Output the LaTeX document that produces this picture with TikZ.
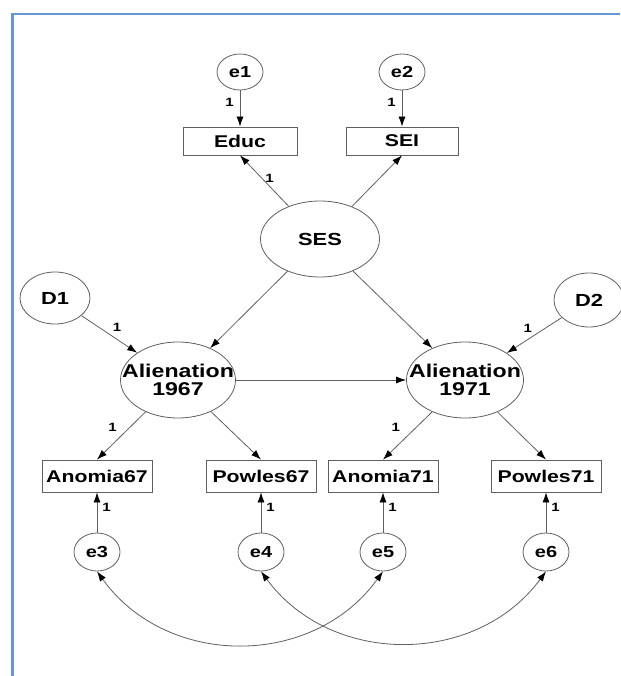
\documentclass[tikz,border=0pt]{standalone}
\usepackage{fontspec}
\setmainfont{Liberation Sans}[FakeStretch=1.25]
\usetikzlibrary{shapes.geometric,arrows.meta}
\definecolor{frameblue}{RGB}{105,150,210}
\definecolor{amosline}{RGB}{95,95,95}
\tikzset{
  latent/.style={ellipse,draw=amosline,line width=0.8pt,inner sep=0pt,inner xsep=-18pt,minimum width=115pt,minimum height=76pt,align=center,font=\fontsize{18.5}{18}\selectfont\bfseries},
  err/.style={ellipse,draw=amosline,line width=0.8pt,inner sep=0pt,minimum width=46pt,minimum height=36pt,font=\fontsize{16}{17}\selectfont\bfseries},
  obs/.style={rectangle,draw=amosline,line width=0.8pt,inner sep=2pt,minimum width=110pt,minimum height=32pt,font=\fontsize{17}{18}\selectfont\bfseries},
  regr/.style={amosline,line width=0.8pt,-{Latex[length=10pt,width=7pt,color=black]}},
  cov/.style={amosline,line width=0.8pt,{Latex[length=10pt,width=7pt,color=black]}-{Latex[length=10pt,width=7pt,color=black]}},
  one/.style={inner sep=1pt,text=black,font=\fontsize{12}{12}\selectfont\bfseries}
}
\begin{document}
\begin{tikzpicture}[x=1pt,y=-1pt]
   \useasboundingbox (0,0) rectangle (620,676);
   \draw [frameblue,line width=2.5pt] (12.5,676) -- (12.5,14) -- (620,14);
   \node [err] (e1) at (240,72) {e1};
   \node [err] (e2) at (402,72) {e2};
   \node [obs,minimum width=114pt,minimum height=28pt] (educ) at (240,141) {Educ};
   \node [obs,minimum width=112pt,minimum height=28pt] (sei) at (402,141) {SEI};
   \node [latent,minimum width=119pt,font=\fontsize{17.5}{18}\selectfont\bfseries] (ses) at (320,239) {SES};
   \node [latent,minimum width=70pt,minimum height=52pt,font=\fontsize{17.5}{18}\selectfont\bfseries] (d1) at (55,298) {D1};
   \node [latent,minimum width=70pt,minimum height=54pt,font=\fontsize{17.5}{18}\selectfont\bfseries] (d2) at (589,300) {D2};
   \node [latent] (al67) at (178,380) {Alienation\\1967};
   \node [latent,minimum width=117pt] (al71) at (465,380) {Alienation\\1971};
   \node [obs] (an67) at (97,476) {Anomia67};
   \node [obs] (po67) at (261,476) {Powles67};
   \node [obs] (an71) at (383,476) {Anomia71};
   \node [obs] (po71) at (546,476) {Powles71};
   \node [err,minimum height=38pt] (e3) at (97,552) {e3};
   \node [err,minimum height=38pt] (e4) at (261,552) {e4};
   \node [err,minimum height=38pt] (e5) at (383,552) {e5};
   \node [err,minimum height=38pt] (e6) at (546,552) {e6};
   \draw [regr] (e1) -- node [one,pos=0.32,left=5pt] {1} (educ);
   \draw [regr] (e2) -- node [one,pos=0.32,left=5pt] {1} (sei);
   \draw [regr] (ses) -- node [one,pos=0.55,right=2pt] {1} (educ.south);
   \draw [regr] (ses) -- (sei.south);
   \draw [regr] (ses) -- (al67);
   \draw [regr] (ses) -- (al71);
   \draw [regr] (d1) -- node [one,pos=0.64,above=6pt] {1} (al67);
   \draw [regr] (d2) -- node [one,pos=0.62,above=6pt] {1} (al71);
   \draw [regr] (al67) -- (al71);
   \draw [regr] (al67) -- node [one,pos=0.32,left=12pt] {1} (an67.north);
   \draw [regr] (al67) -- (po67.north);
   \draw [regr] (al71) -- node [one,pos=0.32,left=15pt] {1} (an71.north);
   \draw [regr] (al71) -- (po71.north);
   \draw [regr] (e3) -- node [one,pos=0.63,right=4pt] {1} (an67);
   \draw [regr] (e4) -- node [one,pos=0.63,right=4pt] {1} (po67);
   \draw [regr] (e5) -- node [one,pos=0.63,right=4pt] {1} (an71);
   \draw [regr] (e6) -- node [one,pos=0.63,right=4pt] {1} (po71);
   \draw [cov] (e3.south) .. controls +(70,97) and +(-70,97) .. (e5.south);
   \draw [cov] (e4.south) .. controls +(70,95) and +(-70,95) .. (e6.south);
\end{tikzpicture}
\end{document}
